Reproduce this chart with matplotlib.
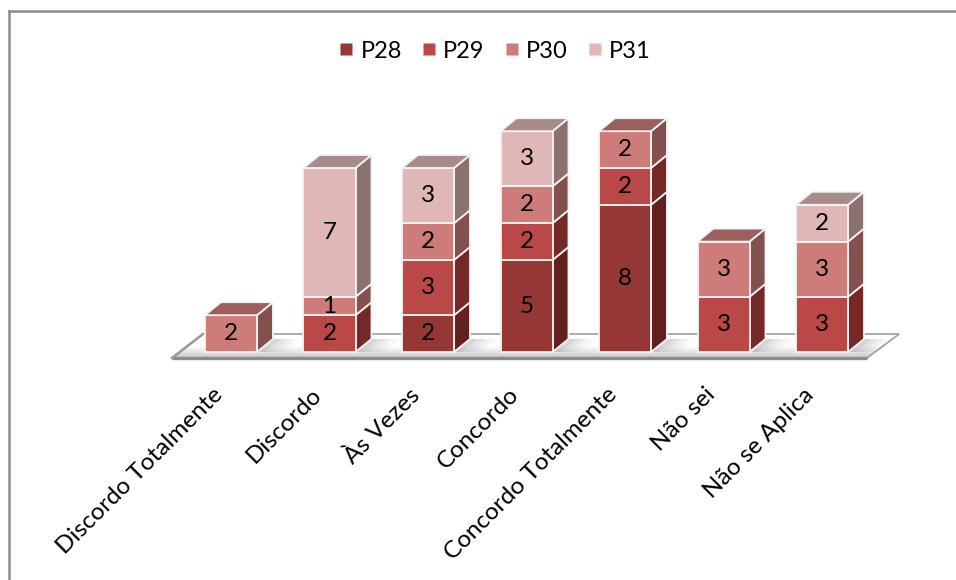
import numpy as np
import matplotlib
matplotlib.use("Agg")
import matplotlib.pyplot as plt
from matplotlib.patches import Polygon
from matplotlib.lines import Line2D

plt.rcParams['font.family'] = ['Lato', 'DejaVu Sans']

categories = ["Discordo Totalmente", "Discordo", "Às Vezes", "Concordo",
              "Concordo Totalmente", "Não sei", "Não se Aplica"]
series_names = ["P28", "P29", "P30", "P31"]
p28 = [0, 0, 2, 5, 8, 0, 0]
p29 = [0, 2, 3, 2, 2, 3, 3]
p30 = [2, 1, 2, 2, 2, 3, 3]
p31 = [0, 7, 3, 3, 0, 0, 2]
series = [p28, p29, p30, p31]

front_colors = ["#953735", "#B94846", "#CD7C7A", "#E0B7B7"]
side_colors = ["#62211F", "#742927", "#83504E", "#8C7171"]
top_colors = ["#7E3432", "#8E4A48", "#9C5F5D", "#A88B8B"]

W, H = 956, 580
fig = plt.figure(figsize=(W / 100, H / 100), dpi=100)
ax = fig.add_axes([0, 0, 1, 1])
ax.set_xlim(-2.345, 7.36)
ax.set_ylim(-12.39, 19.13)
ax.axis("off")

half_w = 0.264      # half bar width (category units)
ddx, ddy = 0.162, 0.707   # depth offset of the 3-D boxes

# floor
floor_front, floor_back = -0.326, 0.978
floor = [(-0.599, floor_front), (6.457, floor_front), (6.782, floor_back), (-0.284, floor_back)]
grad = np.linspace(0, 1, 64).reshape(-1, 1)
cmap = matplotlib.colors.LinearSegmentedColormap.from_list("fl", ["#C8C8C8", "#FFFFFF", "#FFFFFF"])
im = ax.imshow(grad, extent=(-0.7, 6.9, floor_front, floor_back), origin="lower",
               cmap=cmap, aspect="auto", zorder=1)
fpoly = Polygon(floor, closed=True, facecolor="none", edgecolor="#A6A6A6", lw=1.3, zorder=2)
ax.add_patch(fpoly)
im.set_clip_path(fpoly)
ax.plot([-0.599, 6.457], [floor_front, floor_front], color="#8C8C8C", lw=2.4,
        solid_capstyle="butt", zorder=2)
ax.plot([-0.599, -0.284], [floor_front, floor_back], color="#9A9A9A", lw=1.8, zorder=2)

# soft shadows on the floor to the right of each bar
for i in range(len(categories)):
    if sum(s[i] for s in series) == 0:
        continue
    x1 = i + half_w
    for k, a in enumerate([0.10, 0.08, 0.06, 0.04]):
        w = 0.08 + 0.07 * k
        shadow = [(x1, 0), (x1 + w, 0), (x1 + w + ddx, ddy), (x1 + ddx, ddy)]
        ax.add_patch(Polygon(shadow, closed=True, facecolor="#606060", edgecolor="none",
                             alpha=a, zorder=2))

edge = "#F4F4F4"
for i, cat in enumerate(categories):
    base = 0.0
    segs = [(j, s[i]) for j, s in enumerate(series) if s[i] > 0]
    for n, (j, v) in enumerate(segs):
        x0, x1 = i - half_w, i + half_w
        y0, y1 = base, base + v
        front = [(x0, y0), (x1, y0), (x1, y1), (x0, y1)]
        side = [(x1, y0), (x1 + ddx, y0 + ddy), (x1 + ddx, y1 + ddy), (x1, y1)]
        ax.add_patch(Polygon(side, closed=True, facecolor=side_colors[j],
                             edgecolor=edge, lw=1.3, zorder=3))
        ax.add_patch(Polygon(front, closed=True, facecolor=front_colors[j],
                             edgecolor=edge, lw=1.3, zorder=4))
        if n == len(segs) - 1:
            top = [(x0, y1), (x1, y1), (x1 + ddx, y1 + ddy), (x0 + ddx, y1 + ddy)]
            ax.add_patch(Polygon(top, closed=True, facecolor=top_colors[j],
                                 edgecolor=edge, lw=1.3, zorder=4))
        ax.text(i, (y0 + y1) / 2, str(v), ha="center", va="center",
                fontsize=17.5, color="black", zorder=5)
        base = y1
    ax.text(i - 0.04, -1.74, cat, rotation=45, ha="right", va="top",
            fontsize=17.5, color="black")

handles = [Line2D([], [], marker="s", linestyle="none", markersize=9,
                  markerfacecolor=c, markeredgecolor="none") for c in front_colors]
fig.legend(handles, series_names, loc="center", bbox_to_anchor=(0.518, 1 - 51 / H),
           ncol=4, frameon=False, fontsize=17, handlelength=0.6, handletextpad=0.3,
           columnspacing=0.85)

# chart frame (top and left edges)
fig.add_artist(Line2D([9 / W, 1], [1 - 11 / H, 1 - 11 / H], color="#8C8C8C", lw=1.8))
fig.add_artist(Line2D([9 / W, 9 / W], [0, 1 - 11 / H], color="#8C8C8C", lw=1.8))

fig.savefig("out.png", dpi=100)
